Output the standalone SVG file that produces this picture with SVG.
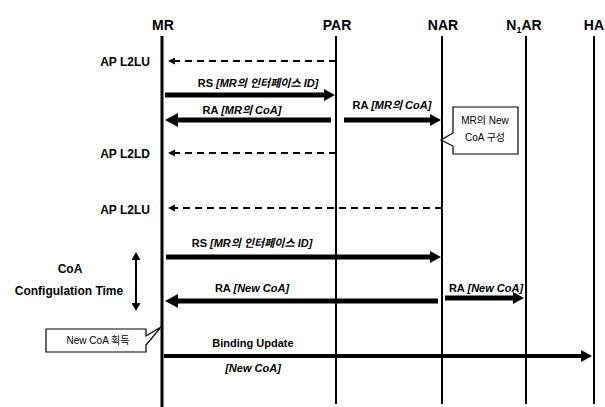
<svg xmlns="http://www.w3.org/2000/svg" width="605" height="407" viewBox="0 0 605 407">
<style>
text{font-family:"Liberation Sans","Noto Sans CJK KR",Arial,sans-serif;fill:#000}
.hdr{font-size:14px;font-weight:bold;text-anchor:middle}
.side{font-size:12px;font-weight:bold;text-anchor:end}
.sidec{font-size:12px;font-weight:bold;text-anchor:middle}
.lbl{font-size:11px;font-weight:bold;text-anchor:middle}
.it{font-style:italic}
.call{font-size:10px;text-anchor:middle}
.life{stroke:#000;stroke-width:2;fill:none}
.thick{stroke:#000;stroke-width:5;fill:none;marker-end:url(#hd)}
.thickL{stroke:#000;stroke-width:5;fill:none;marker-end:url(#hdL)}
.dash{stroke:#000;stroke-width:2;fill:none;stroke-dasharray:7 5;marker-end:url(#hs)}
.bu{stroke:#000;stroke-width:4;fill:none;marker-end:url(#hd)}
.box{fill:#fff;stroke:#000;stroke-width:1.2}
</style>
<defs>
<marker id="hd" markerUnits="userSpaceOnUse" markerWidth="12" markerHeight="12" refX="1" refY="6" orient="auto"><path d="M0,0 L11,6 L0,12 z" fill="#000"/></marker>
<marker id="hdL" markerUnits="userSpaceOnUse" markerWidth="14" markerHeight="14" refX="1" refY="7" orient="auto"><path d="M0,0 L13,7 L0,14 z" fill="#000"/></marker>
<marker id="hs" markerUnits="userSpaceOnUse" markerWidth="8" markerHeight="8" refX="1" refY="4" orient="auto"><path d="M0,0.5 L7,4 L0,7.5 z" fill="#000"/></marker>
<marker id="hv" markerUnits="userSpaceOnUse" markerWidth="9" markerHeight="9" refX="1" refY="4.5" orient="auto-start-reverse"><path d="M0,0 L8,4.5 L0,9 z" fill="#000"/></marker>
</defs>

<g id="MR"><text class="hdr" x="163" y="30">MR</text><line class="life" x1="162" y1="36" x2="162" y2="407" style="stroke-width:3"/></g>
<g id="PAR"><text class="hdr" x="337" y="30">PAR</text><line class="life" x1="336" y1="36" x2="336" y2="404"/></g>
<g id="NAR"><text class="hdr" x="443" y="30">NAR</text><line class="life" x1="442" y1="36" x2="442" y2="404"/></g>
<g id="N1AR"><text class="hdr" x="524" y="30">N<tspan font-size="9" dy="3">1</tspan><tspan dy="-3">AR</tspan></text><line class="life" x1="526" y1="36" x2="526" y2="404"/></g>
<g id="HA"><text class="hdr" x="604" y="30" style="text-anchor:end">HA</text><line class="life" x1="594" y1="36" x2="594" y2="404"/></g>

<g id="side-labels">
<text class="side" x="150" y="66">AP L2LU</text>
<text class="side" x="150" y="158">AP L2LD</text>
<text class="side" x="150" y="214">AP L2LU</text>
<text class="sidec" x="70" y="273">CoA</text>
<text class="sidec" x="69" y="295">Configulation Time</text>
</g>

<g id="callout-nar">
<path class="box" d="M453,107 H518 V154 H453 V146 L441,140 L453,133 Z"/>
<text class="call" x="485" y="124">MR의 New</text>
<text class="call" x="485" y="141">CoA 구성</text>
</g>
<g id="callout-mr">
<path class="box" d="M46,329 H146 V336 L161,327 L146,345 V352 H46 Z"/>
<text class="call" x="98" y="344">New CoA 획득</text>
</g>

<g id="connectors">
<line class="dash" x1="336" y1="61" x2="174" y2="61"/>
<line class="thick" x1="165" y1="95" x2="325" y2="95"/>
<line class="thickL" x1="331" y1="120" x2="177" y2="120"/>
<line class="thick" x1="344" y1="120" x2="431" y2="120"/>
<line class="dash" x1="336" y1="153" x2="174" y2="153"/>
<line class="dash" x1="442" y1="208" x2="174" y2="208"/>
<line class="thick" x1="166" y1="257" x2="431" y2="257"/>
<line class="thickL" x1="438" y1="301" x2="177" y2="301"/>
<line class="thick" x1="445" y1="298" x2="514" y2="298"/>
<line class="bu" x1="164" y1="356" x2="582" y2="356"/>
<line x1="136" y1="259" x2="136" y2="304" stroke="#000" stroke-width="2" marker-start="url(#hv)" marker-end="url(#hv)"/>
</g>

<g id="connector-labels">
<text class="lbl" x="258" y="87">RS <tspan class="it">[MR의 인터페이스 ID]</tspan></text>
<text class="lbl" x="242" y="114">RA <tspan class="it">[MR의 CoA]</tspan></text>
<text class="lbl" x="392" y="109">RA <tspan class="it">[MR의 CoA]</tspan></text>
<text class="lbl" x="252" y="247">RS <tspan class="it">[MR의 인터페이스 ID]</tspan></text>
<text class="lbl" x="252" y="292">RA <tspan class="it">[New CoA]</tspan></text>
<text class="lbl" x="486" y="292">RA <tspan class="it">[New CoA]</tspan></text>
<text class="lbl" x="253" y="347">Binding Update</text>
<text class="lbl it" x="253" y="372">[New CoA]</text>
</g>
</svg>
